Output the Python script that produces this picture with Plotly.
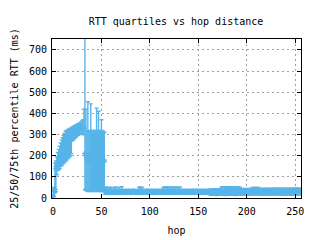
import plotly.graph_objects as go

# hop distance 0..255
hops = list(range(256))

# ---- hops 0..53 ----
q25_head = [2, 10, 25, 30, 110, 130, 135, 140, 150, 155,
            160, 165, 170, 175, 180, 185, 190, 195, 200, 210,
            270, 275, 280, 285, 290, 295, 298, 300, 302, 305,
            305, 300, 300, 40, 35, 35, 30, 35, 35, 30,
            35, 35, 30, 35, 30, 35, 35, 30, 35, 30,
            35, 30, 35, 30]
q50_head = [6, 30, 40, 140, 150, 160, 170, 185, 195, 205,
            215, 225, 235, 245, 255, 260, 265, 270, 275, 280,
            300, 303, 306, 310, 315, 320, 322, 325, 330, 332,
            335, 330, 330, 210, 200, 180, 190, 170, 200, 180,
            190, 175, 185, 170, 190, 180, 185, 175, 180, 190,
            170, 185, 175, 175]
q75_head = [15, 50, 165, 175, 195, 215, 230, 245, 260, 275,
            285, 295, 305, 315, 320, 320, 325, 325, 330, 330,
            335, 338, 340, 342, 345, 348, 350, 352, 355, 360,
            365, 370, 420, 800, 420, 315, 455, 320, 315, 445,
            320, 310, 320, 315, 320, 425, 320, 410, 320, 315,
            370, 320, 315, 310]

# ---- hops 54..255 ----
q25_tail = [18, 20, 17, 19, 21, 18, 17, 20, 19, 18,
            17, 19, 18, 20, 18, 17, 19, 21, 18, 19,
            18, 17, 19, 18, 20, 19, 17, 18, 19, 20,
            19, 18, 17, 19, 18, 20, 18, 19, 17, 18,
            18, 19, 20, 18, 17, 19, 18, 18, 19, 17,
            19, 18, 17, 18, 19, 20, 18, 17, 19, 18,
            17, 19, 18, 19, 18, 17, 19, 18, 20, 18,
            18, 17, 19, 18, 19, 18, 17, 19, 18, 19,
            19, 18, 18, 17, 19, 18, 20, 18, 17, 19,
            18, 19, 17, 18, 19, 18, 19, 17, 18, 19,
            17, 18, 19, 18, 17, 19, 18, 18, 16, 14,
            15, 13, 16, 14, 15, 12, 14, 16, 13, 15,
            14, 16, 13, 15, 12, 14, 15, 13, 16, 14,
            15, 13, 14, 16, 12, 15, 14, 13, 15, 16,
            14, 15, 16, 15, 16, 17, 15, 16, 14, 15,
            16, 15, 14, 16, 15, 17, 16, 15, 16, 14,
            15, 16, 15, 14, 16, 15, 17, 15, 16, 15,
            14, 16, 15, 16, 15, 14, 16, 15, 17, 16,
            15, 14, 16, 15, 16, 15, 14, 16, 15, 16,
            16, 15, 14, 16, 15, 16, 15, 14, 16, 15,
            15, 16]
q50_tail = [28, 30, 27, 29, 31, 28, 27, 30, 29, 28,
            27, 29, 28, 30, 28, 27, 29, 31, 28, 29,
            28, 27, 29, 28, 30, 29, 27, 28, 29, 30,
            29, 28, 27, 29, 28, 30, 28, 29, 27, 28,
            28, 29, 30, 28, 27, 29, 28, 28, 29, 27,
            29, 28, 27, 28, 29, 30, 28, 27, 29, 28,
            27, 29, 28, 29, 28, 27, 29, 28, 30, 28,
            28, 27, 29, 28, 29, 28, 27, 29, 28, 29,
            29, 28, 28, 27, 29, 28, 30, 28, 27, 29,
            28, 29, 27, 28, 29, 28, 29, 27, 28, 29,
            27, 28, 29, 28, 27, 29, 28, 28, 27, 26,
            27, 25, 28, 26, 27, 25, 26, 28, 25, 27,
            26, 28, 25, 27, 25, 26, 27, 25, 28, 26,
            27, 25, 26, 28, 25, 27, 26, 25, 27, 28,
            26, 27, 28, 27, 28, 29, 27, 28, 26, 27,
            28, 27, 26, 28, 27, 29, 28, 27, 28, 26,
            27, 28, 27, 26, 28, 27, 29, 27, 28, 27,
            26, 28, 27, 28, 27, 26, 28, 27, 29, 28,
            27, 26, 28, 27, 28, 27, 26, 28, 27, 28,
            28, 27, 26, 28, 27, 28, 27, 26, 28, 27,
            27, 28]
q75_tail = [48, 52, 40, 50, 42, 39, 51, 41, 38, 49,
            40, 52, 39, 41, 50, 38, 40, 53, 41, 39,
            38, 40, 39, 41, 38, 40, 39, 38, 41, 40,
            39, 41, 38, 40, 39, 51, 52, 40, 50, 39,
            41, 38, 40, 39, 41, 40, 38, 39, 41, 40,
            39, 40, 38, 41, 39, 40, 38, 39, 41, 40,
            50, 52, 40, 51, 53, 41, 50, 52, 39, 51,
            50, 40, 52, 51, 39, 50, 41, 52, 40, 39,
            41, 40, 38, 39, 41, 40, 39, 38, 40, 41,
            39, 40, 41, 38, 40, 39, 41, 40, 38, 39,
            40, 41, 39, 40, 38, 41, 40, 39, 42, 41,
            43, 40, 42, 44, 41, 43, 42, 40, 44, 42,
            52, 54, 42, 53, 51, 43, 52, 54, 50, 43,
            53, 51, 44, 52, 43, 54, 42, 52, 44, 51,
            43, 44, 42, 45, 43, 44, 42, 45, 44, 43,
            45, 44, 50, 45, 43, 51, 44, 45, 50, 44,
            45, 43, 44, 46, 44, 45, 43, 46, 44, 45,
            44, 46, 45, 44, 46, 45, 44, 46, 45, 44,
            46, 45, 44, 46, 45, 44, 46, 45, 44, 46,
            45, 44, 46, 45, 44, 46, 45, 47, 46, 45,
            46, 45]

q25 = q25_head + q25_tail
q50 = q50_head + q50_tail
q75 = q75_head + q75_tail

x_ticks = [0, 50, 100, 150, 200, 250]
y_ticks = [0, 100, 200, 300, 400, 500, 600, 700]

color = "#56b4e9"
font = "DejaVu Sans Mono"

fig = go.Figure()
fig.add_trace(go.Scatter(
    x=hops, y=q50, mode="markers",
    marker=dict(symbol="asterisk-open", size=5, color=color,
                line=dict(width=1, color=color)),
    error_y=dict(type="data", symmetric=False,
                 array=[h - m for h, m in zip(q75, q50)],
                 arrayminus=[m - l for m, l in zip(q50, q25)],
                 color=color, thickness=1.4, width=2),
    showlegend=False, cliponaxis=True,
))

axis_common = dict(
    showline=True, linecolor="black", linewidth=1, mirror="ticks",
    ticks="inside", ticklen=4, tickcolor="black", automargin=False,
    showgrid=True, gridcolor="#a0a0a0", gridwidth=1, griddash="2px,3px",
    zeroline=False, tickfont=dict(family=font, size=10, color="black"),
)

fig.update_layout(
    width=320, height=240,
    margin=dict(l=52, r=19, t=39, b=42),
    paper_bgcolor="white", plot_bgcolor="white",
    font=dict(family=font, size=10, color="black"),
    title=dict(text="RTT quartiles vs hop distance", x=0.55, xanchor="center",
               y=1 - 21.5 / 240, yanchor="middle", yref="container",
               font=dict(family=font, size=10, color="black")),
    xaxis=dict(range=[-1, 256], tickvals=x_ticks, ticklabelstandoff=4,
               title=dict(text="hop", standoff=10,
                          font=dict(family=font, size=10, color="black")),
               **axis_common),
    yaxis=dict(range=[0, 752], tickvals=y_ticks, ticklabelstandoff=2,
               title=dict(text="25/50/75th percentile RTT (ms)", standoff=8,
                          font=dict(family=font, size=10, color="black")),
               **axis_common),
)

fig.write_html("out.html")
